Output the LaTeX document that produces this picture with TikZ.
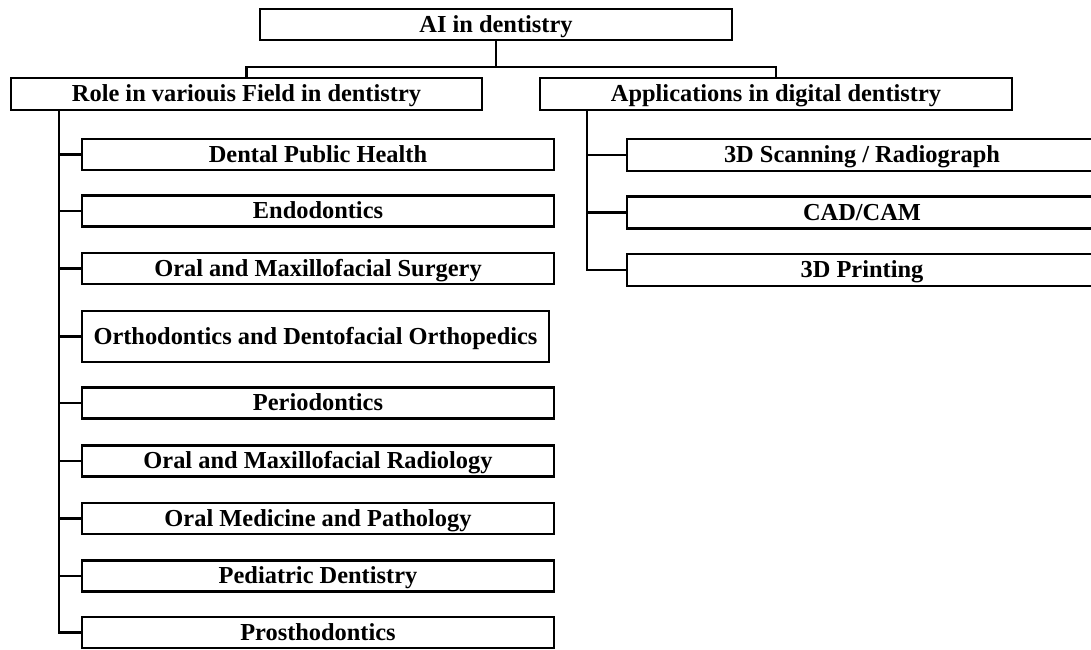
\documentclass[tikz,border=0pt]{standalone}
\usepackage{fontspec}
\setmainfont{Liberation Serif}
\begin{document}
\begin{tikzpicture}[x=1pt,y=-1pt,
  line width=2.8pt,
  box/.style={draw=black, fill=white, inner sep=0pt, minimum height=31pt,
    text height=15.6pt, text depth=0pt,
    font=\bfseries\fontsize{24.4}{28}\selectfont},
  leaf/.style={box, minimum width=472pt},
  tool/.style={box, minimum width=470pt, minimum height=32pt}]
  \clip (0,0) rectangle (1091,649);
  \fill[white] (0,0) rectangle (1091,649);

  % root and the two branches
  \node[box, minimum width=472pt] (root) at (496,24.5) {AI in dentistry};
  \node[box, minimum width=471pt, minimum height=32pt] (role) at (246.5,94) {Role in variouis Field in dentistry};
  \node[box, minimum width=472pt, minimum height=32pt] (app) at (776,94) {Applications in digital dentistry};

  % fields of dentistry
  \node[leaf] (dph)   at (318,154.5) {Dental Public Health};
  \node[leaf] (endo)  at (318,211)   {Endodontics};
  \node[leaf] (oms)   at (318,268.5) {Oral and Maxillofacial Surgery};
  \node[box, minimum width=467pt, minimum height=51pt] (ortho) at (315.5,336.5) {Orthodontics and Dentofacial Orthopedics};
  \node[leaf] (perio) at (318,403)   {Periodontics};
  \node[leaf] (rad)   at (318,461)   {Oral and Maxillofacial Radiology};
  \node[leaf] (omp)   at (318,518.5) {Oral Medicine and Pathology};
  \node[leaf] (ped)   at (318,576)   {Pediatric Dentistry};
  \node[leaf] (pros)  at (318,632.5) {Prosthodontics};

  % digital dentistry tools
  \node[tool] (scan)  at (862,155)   {3D Scanning / Radiograph};
  \node[tool] (cad)   at (862,212.5) {CAD/CAM};
  \node[tool] (print) at (862,270)   {3D Printing};

  % connectors
  \coordinate (bus) at (496,67);
  \coordinate (lt) at (59,0);
  \coordinate (rt) at (587,0);
  \draw (root.south) -- (bus) -| (role.north);
  \draw (bus) -| (app.north);

  \draw (lt |- role.south) |- (pros.west);
  \foreach \n in {dph,endo,oms,ortho,perio,rad,omp,ped}
    \draw (lt |- \n.west) -- (\n.west);

  \draw (rt |- app.south) |- (print.west);
  \foreach \n in {scan,cad}
    \draw (rt |- \n.west) -- (\n.west);
\end{tikzpicture}
\end{document}
